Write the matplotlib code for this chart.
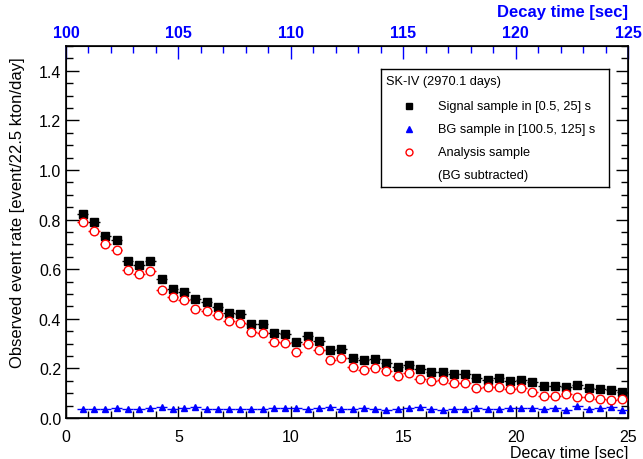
import numpy as np
import matplotlib
matplotlib.use("Agg")
import matplotlib.pyplot as plt
from matplotlib.ticker import MultipleLocator

plt.rcParams['font.family'] = ['Liberation Sans', 'DejaVu Sans']

# 0.5 s bins from 0.5 s to 25 s
bin_width = 0.5
t_centers = np.arange(0.75, 25.0, bin_width)

signal_rate = [0.823, 0.790, 0.735, 0.716, 0.632, 0.618, 0.632, 0.560, 0.521, 0.507,
               0.481, 0.469, 0.449, 0.424, 0.419, 0.379, 0.378, 0.344, 0.339, 0.305,
               0.331, 0.310, 0.274, 0.277, 0.241, 0.233, 0.238, 0.222, 0.206, 0.212,
               0.197, 0.187, 0.186, 0.177, 0.179, 0.162, 0.154, 0.162, 0.151, 0.153,
               0.145, 0.131, 0.129, 0.126, 0.133, 0.119, 0.116, 0.114, 0.106]

bg_rate = [0.035, 0.035, 0.037, 0.041, 0.037, 0.036, 0.039, 0.043, 0.035, 0.039,
           0.043, 0.037, 0.035, 0.037, 0.037, 0.035, 0.037, 0.039, 0.041, 0.039,
           0.037, 0.040, 0.043, 0.036, 0.037, 0.041, 0.037, 0.033, 0.037, 0.039,
           0.043, 0.037, 0.033, 0.037, 0.037, 0.041, 0.035, 0.037, 0.039, 0.041,
           0.039, 0.035, 0.039, 0.031, 0.048, 0.037, 0.040, 0.043, 0.032]

analysis_rate = [0.790, 0.755, 0.700, 0.677, 0.596, 0.582, 0.594, 0.518, 0.489, 0.475,
                 0.439, 0.430, 0.414, 0.390, 0.382, 0.346, 0.341, 0.306, 0.302, 0.266,
                 0.297, 0.274, 0.234, 0.241, 0.207, 0.193, 0.201, 0.190, 0.170, 0.180,
                 0.157, 0.150, 0.153, 0.143, 0.143, 0.122, 0.125, 0.126, 0.115, 0.119,
                 0.106, 0.090, 0.090, 0.095, 0.086, 0.083, 0.076, 0.072, 0.076]

fig = plt.figure(figsize=(6.43, 4.6), dpi=100)
ax = fig.add_axes([66 / 643, 1 - 419 / 460, 562 / 643, 372 / 460])

xerr = bin_width / 2
ax.errorbar(t_centers, bg_rate, xerr=xerr, fmt='^', color='blue', ms=4.5,
            elinewidth=1.0, capsize=0, zorder=3)
ax.errorbar(t_centers, signal_rate, xerr=xerr, fmt='s', color='black', ms=5.2,
            elinewidth=1.0, capsize=0, zorder=4)
ax.errorbar(t_centers, analysis_rate, xerr=xerr, fmt='o', color='red', mfc='white',
            mec='red', mew=1.0, ms=6.2, elinewidth=1.0, capsize=0, zorder=5)

ax.set_xlim(0, 25)
ax.set_ylim(0, 1.5)
ax.xaxis.set_major_locator(MultipleLocator(5))
ax.xaxis.set_minor_locator(MultipleLocator(1))
ax.yaxis.set_major_locator(MultipleLocator(0.2))
ax.yaxis.set_minor_locator(MultipleLocator(0.05))
ax.set_yticks(np.arange(0, 1.41, 0.2))
ax.set_yticklabels([f"{v:.1f}" for v in np.arange(0, 1.41, 0.2)])
ax.tick_params(axis='both', which='both', direction='in', labelsize=11.5)
ax.tick_params(axis='y', which='both', right=True)
ax.tick_params(axis='x', which='both', top=False)
ax.tick_params(which='major', length=9, width=1.0)
ax.tick_params(which='minor', length=5, width=1.0)
ax.tick_params(axis='x', pad=8)
for s in ax.spines.values():
    s.set_linewidth(1.2)

fig.text(18 / 643, 1 - 213 / 460, "Observed event rate [event/22.5 kton/day]",
         rotation=90, ha='center', va='center', fontsize=12)
ax.text(1.0, -0.092, "Decay time [sec]", transform=ax.transAxes, ha='right',
        va='center', fontsize=11.5)

# background-window time axis on top
ax2 = ax.twiny()
ax2.set_xlim(100, 125)
ax2.xaxis.set_major_locator(MultipleLocator(5))
ax2.xaxis.set_minor_locator(MultipleLocator(1))
ax2.tick_params(axis='x', which='both', direction='in', colors='blue',
                labelsize=11.5, pad=4)
ax2.tick_params(which='major', length=9, width=1.0)
ax2.tick_params(which='minor', length=5, width=1.0)
for lbl in ax2.get_xticklabels():
    lbl.set_fontweight('bold')
ax2.text(1.0, 1.092, "Decay time [sec]", transform=ax.transAxes, ha='right',
         va='center', fontsize=12, color='blue', fontweight='bold')

# legend box
leg_ax = fig.add_axes([381 / 643, 1 - 188 / 460, 228 / 643, 118 / 460])
leg_ax.set_xlim(0, 228)
leg_ax.set_ylim(118, 0)
leg_ax.set_xticks([])
leg_ax.set_yticks([])
for s in leg_ax.spines.values():
    s.set_linewidth(1.0)
leg_ax.text(5, 12, "SK-IV (2970.1 days)", fontsize=9.2, va='center', ha='left')
leg_ax.plot([28], [37], 's', color='black', ms=4.5)
leg_ax.plot([28], [60], '^', color='blue', ms=4)
leg_ax.plot([28], [83], 'o', mfc='white', mec='red', ms=5, mew=1.0)
leg_ax.text(57, 37, "Signal sample in [0.5, 25] s", fontsize=9.2, va='center')
leg_ax.text(57, 60, "BG sample in [100.5, 125] s", fontsize=9.2, va='center')
leg_ax.text(57, 83, "Analysis sample", fontsize=9.2, va='center')
leg_ax.text(57, 106, "(BG subtracted)", fontsize=9.2, va='center')

fig.savefig("out.png", dpi=100)
